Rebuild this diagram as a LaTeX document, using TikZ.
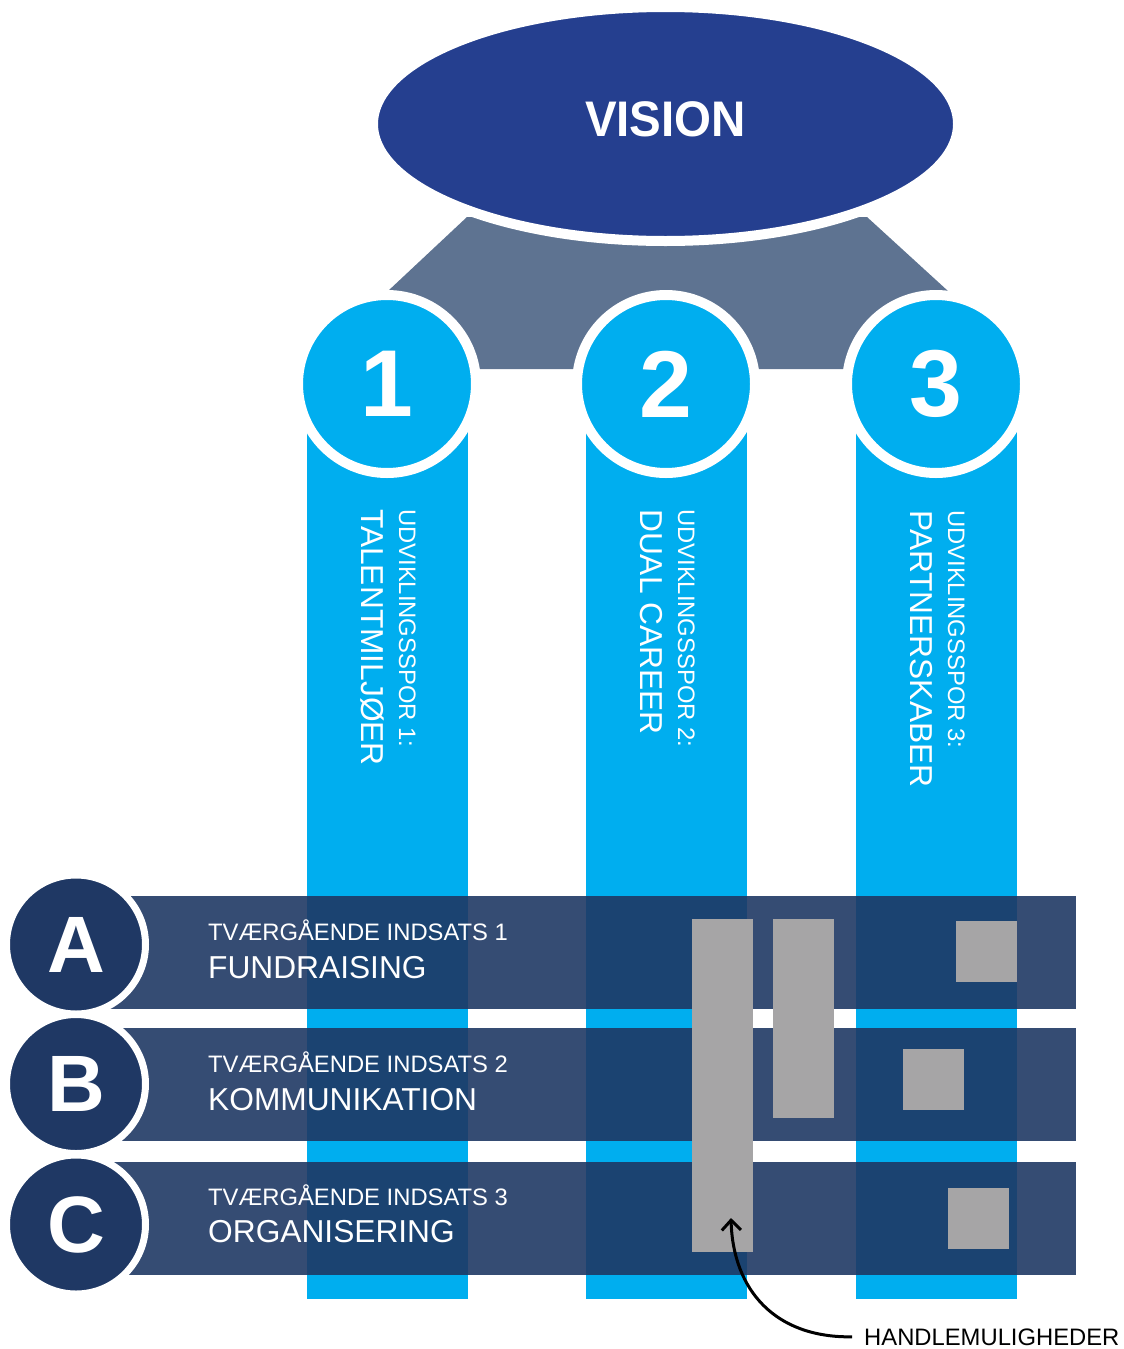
\documentclass[tikz,border=0pt]{standalone}
\usepackage{fontspec}
\setmainfont{Liberation Sans}
\usetikzlibrary{arrows.meta,positioning,shapes.geometric}
\definecolor{visionblue}{HTML}{253F8F}
\definecolor{roofslate}{HTML}{5E7391}
\definecolor{pillarcyan}{HTML}{00AEEF}
\definecolor{navy}{HTML}{1F3864}
\definecolor{boxgray}{HTML}{A6A5A6}

\begin{document}
\begin{tikzpicture}[x=1pt,y=-1pt]
  % Styles
  \tikzset{
    vision/.style={ellipse, fill=visionblue, draw=white, line width=10pt, minimum width=585pt, minimum height=234pt, text=white, text depth=9pt, font=\bfseries\fontsize{50}{50}\selectfont},
    pillar/.style={rectangle, fill=pillarcyan, anchor=north west, inner sep=0pt, minimum width=161pt, minimum height=915pt},
    track/.style={circle, fill=pillarcyan, draw=white, line width=10pt, minimum size=178pt, inner sep=0pt, text=white, font=\bfseries\fontsize{95}{95}\selectfont},
    band/.style={rectangle, fill=navy, fill opacity=0.9, anchor=north west, inner sep=0pt, minimum width=966pt, minimum height=113pt},
    letter/.style={circle, fill=navy, draw=white, line width=7pt, minimum size=139pt, inner sep=0pt, text=white, font=\bfseries\fontsize{80}{80}\selectfont},
    action/.style={rectangle, fill=boxgray, anchor=north west, inner sep=0pt, minimum width=61pt},
    small/.style={text=white, inner sep=0pt, anchor=base west, font=\fontsize{23.8}{28}\selectfont},
    large/.style={text=white, inner sep=0pt, anchor=base west, font=\fontsize{31.7}{36}\selectfont},
    line/.style={-{Straight Barb[length=10pt,width=19pt]}, line width=3pt, draw=black},
  }
  \useasboundingbox (0,0) rectangle (1124,1349);

  % Roof under the vision
  \fill[roofslate] (467,217) -- (867,217) -- (948,291) -- (948,369) -- (388,369) -- (388,291) -- cycle;
  \node[vision] (vision) at (665.5,124) {\scalebox{0.95}[1]{VISION}};

  % Pillars
  \node[pillar] (p1) at (307,384) {};
  \node[pillar] (p2) at (586,384) {};
  \node[pillar] (p3) at (856,384) {};
  \node[track] (t1) at (387,384) {1};
  \node[track] (t2) at (666,384) {2};
  \node[track] (t3) at (936,384) {3};

  % Pillar texts
  \node[small, rotate=-90] (s1) at (399,509) {UDVIKLINGSSPOR 1:};
  \node[large, rotate=-90] (l1) at (361,509) {TALENTMILJØER};
  \node[small, rotate=-90] (s2) at (678,509) {UDVIKLINGSSPOR 2:};
  \node[large, rotate=-90] (l2) at (640,509) {DUAL CAREER};
  \node[small, rotate=-90] (s3) at (948,510) {UDVIKLINGSSPOR 3:};
  \node[large, rotate=-90] (l3) at (910,510) {PARTNERSKABER};

  % Cross-cutting bands
  \node[band] (bA) at (110,896) {};
  \node[band] (bB) at (110,1028) {};
  \node[band] (bC) at (110,1162) {};
  \node[letter] (cA) at (76,944.5) {A};
  \node[letter] (cB) at (76,1084) {B};
  \node[letter] (cC) at (76,1224.5) {C};

  \node[small] (sA) at (208,940) {TVÆRGÅENDE INDSATS 1};
  \node[large] (lA) at (208,978) {FUNDRAISING};
  \node[small] (sB) at (208,1072) {TVÆRGÅENDE INDSATS 2};
  \node[large] (lB) at (208,1110) {KOMMUNIKATION};
  \node[small] (sC) at (208,1205) {TVÆRGÅENDE INDSATS 3};
  \node[large] (lC) at (208,1242) {ORGANISERING};

  % Action boxes
  \node[action, minimum height=333pt] (g1) at (692,919) {};
  \node[action, minimum height=199pt] (g2) at (773,919) {};
  \node[action, minimum height=61pt] (g3) at (956,921) {};
  \node[action, minimum height=61pt] (g4) at (903,1049) {};
  \node[action, minimum height=61pt] (g5) at (948,1188) {};

  % Pointer
  \coordinate (tip) at (731,1218);
  \node[small, text=black, inner xsep=12pt] (handle) at (852,1345) {HANDLEMULIGHEDER};
  \draw[line] (handle.west) .. controls (775,1338) and (733,1290) .. (tip);
\end{tikzpicture}
\end{document}
